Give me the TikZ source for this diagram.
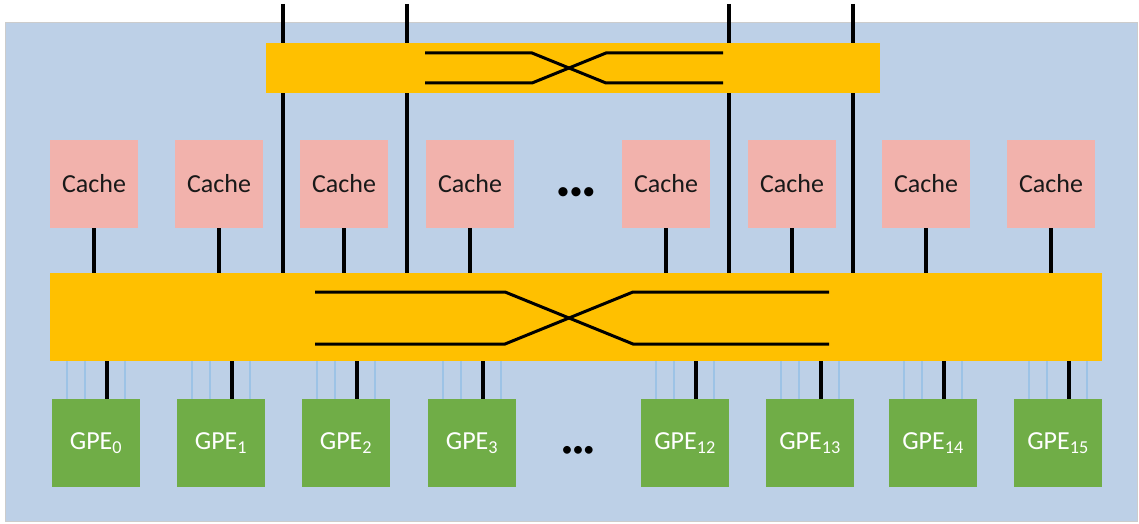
\documentclass[tikz,border=0pt]{standalone}
\usepackage{fontspec}
\setmainfont{Carlito}
\usepackage{tikz}
\usetikzlibrary{positioning}
\definecolor{cbg}{HTML}{BDD0E7}
\definecolor{cbar}{HTML}{FFC000}
\definecolor{ccache}{HTML}{F2B2AC}
\definecolor{cgpe}{HTML}{70AD47}
\definecolor{clane}{HTML}{9DC3E6}
\tikzset{
  cachebox/.style={fill=ccache, minimum width=88pt, minimum height=88pt,
    inner sep=0pt, font=\fontsize{26}{30}\selectfont, text=black!90},
  gpebox/.style={fill=cgpe, minimum width=88pt, minimum height=88pt,
    inner sep=0pt, font=\fontsize{26}{30}\selectfont, text=white},
  busbar/.style={fill=cbar, inner sep=0pt},
  gapdots/.style={font=\fontsize{26}{28}\selectfont, inner sep=0pt},
  wire/.style={line width=3.5pt, black},
  lane/.style={line width=2pt, color=clane},
  xwire/.style={line width=3pt, black}
}

\begin{document}
\begin{tikzpicture}[x=1pt, y=-1pt]
  \useasboundingbox (0,0) rectangle (1139,524);
  \fill[cbg, draw=black!20] (5,22) rectangle (1137,521);

  \node[busbar, minimum width=614pt, minimum height=50pt] (top) at (573,68) {};
  \node[busbar, minimum width=1052pt, minimum height=88pt] (xbar) at (576,317) {};

  % crossbars
  \draw[xwire] (425,53) -- (532,53) -- (606,83) -- (723,83);
  \draw[xwire] (425,83) -- (532,83) -- (606,53) -- (723,53);
  \draw[xwire] (315,292) -- (505,292) -- (633,344) -- (829,344);
  \draw[xwire] (315,344) -- (505,344) -- (633,292) -- (829,292);

  % links through the upper switch
  \foreach \n/\x in {1/283,2/407,3/729,4/853}{
    \coordinate (t\n) at (\x,4);
    \draw[wire] (t\n) -- (t\n |- top.north);
    \draw[wire] (t\n |- top.south) -- (t\n |- xbar.north);
  }

  % caches
  \foreach \n/\x in {1/94,2/219,3/344,4/470,5/666,6/792,7/926,8/1051}{
    \node[cachebox] (c\n) at (\x,184) {Cache};
    \draw[wire] (c\n.south) -- (c\n.south |- xbar.north);
  }
  \node[gapdots] (d1) at (576,194) {•••};

  % GPEs
  \foreach \n/\x/\i in {1/96/0,2/221/1,3/346/2,4/472/3,5/685/12,6/810/13,7/933/14,8/1058/15}{
    \node[gpebox] (g\n) at (\x,443) {GPE\textsubscript{\i}};
    \foreach \d in {-29,-11,29}
      \draw[lane] ([xshift=\d pt]g\n.north) -- ([xshift=\d pt]g\n.north |- xbar.south);
    \draw[wire] ([xshift=11pt]g\n.north) -- ([xshift=11pt]g\n.north |- xbar.south);
  }
  \node[gapdots, font=\fontsize{22}{24}\selectfont] (d2) at (578,451) {•••};
\end{tikzpicture}
\end{document}
